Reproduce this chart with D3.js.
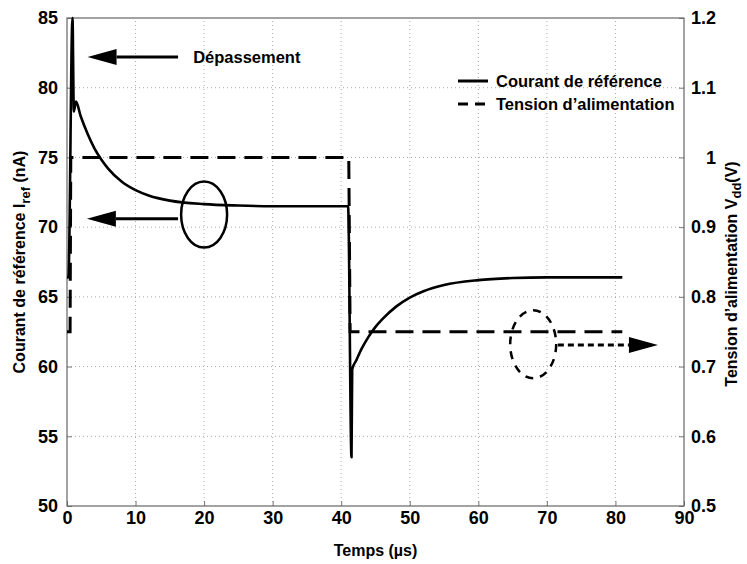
<!DOCTYPE html>
<html>
<head>
<meta charset="utf-8">
<script src="https://cdn.jsdelivr.net/npm/d3@7"></script>
<style>
    body { margin: 0; background: #fff; }
    svg { display: block; font-family: "Liberation Sans", Arial, sans-serif; }
</style>
</head>
<body>
<svg id="chart" width="747" height="564"></svg>
<script>
// Temps (µs) / courant (nA)
const currentTime = [0, 0.2, 0.8, 1.0, 1.3, 2, 3, 4, 5, 6, 8, 10, 12, 15, 20, 25, 30, 35, 41.0,
    41.5, 41.6, 42.2, 43, 44, 45, 46, 48, 50, 52, 55, 60, 65, 70, 81];
const currentValue = [66.4, 66.4, 85, 78.3, 79, 77.95, 76.7, 75.65, 74.85, 74.2, 73.25, 72.65, 72.25, 71.9, 71.65, 71.55, 71.5, 71.5, 71.5,
    53.5, 59.8, 60.45, 61.3, 62.15, 62.85, 63.4, 64.3, 64.95, 65.4, 65.85, 66.2, 66.35, 66.4, 66.4];

// Temps (µs) / tension (V)
const voltageTime = [0, 0.45, 0.55, 41.1, 41.3, 81];
const voltageValue = [0.75, 0.75, 1.0, 1.0, 0.75, 0.75];

const xTicks = [0, 10, 20, 30, 40, 50, 60, 70, 80, 90];
const leftTicks = [50, 55, 60, 65, 70, 75, 80, 85];
const rightTicks = [0.5, 0.6, 0.7, 0.8, 0.9, 1.0, 1.1, 1.2];
const rightTickLabels = ["0.5", "0.6", "0.7", "0.8", "0.9", "1", "1.1", "1.2"];

const legendLabels = ["Courant de référence", "Tension d’alimentation"];

let viewChart = {
    render: function() {
        const svg = d3.select("#chart");
        svg.selectAll("*").remove();
        const width = 747, height = 564;
        const margin = { left: 67, right: 63, top: 18, bottom: 58 };

        const xScale = d3.scaleLinear()
            .domain([0, 90])
            .range([margin.left, width - margin.right]);
        const yLeft = d3.scaleLinear()
            .domain([50, 85])
            .range([height - margin.bottom, margin.top]);
        const yRight = d3.scaleLinear()
            .domain([0.5, 1.2])
            .range([height - margin.bottom, margin.top]);

        const x0 = margin.left, x1 = width - margin.right,
            y0 = height - margin.bottom, y1 = margin.top;

        // Grid
        const grid = svg.append("g");
        grid.selectAll(".vgrid").data(xTicks.slice(1, -1)).enter().append("line")
            .attr("x1", d => xScale(d)).attr("x2", d => xScale(d))
            .attr("y1", y0).attr("y2", y1)
            .attr("stroke", "#aaa").attr("stroke-dasharray", "1,3");
        grid.selectAll(".hgrid").data(leftTicks.slice(1, -1)).enter().append("line")
            .attr("x1", x0).attr("x2", x1)
            .attr("y1", d => yLeft(d)).attr("y2", d => yLeft(d))
            .attr("stroke", "#aaa").attr("stroke-dasharray", "1,3");

        // Axes
        const tickFont = (g) => g.selectAll("text")
            .attr("font-family", "'Liberation Sans Narrow', 'Liberation Sans', Arial, sans-serif")
            .attr("font-size", 18).attr("font-weight", "bold").attr("fill", "#000");
        const axisStyle = (g) => {
            g.select(".domain").remove();
            g.selectAll(".tick line").attr("stroke", "#777");
        };
        svg.append("g")
            .attr("transform", `translate(0,${y0})`)
            .call(d3.axisBottom(xScale).tickValues(xTicks).tickSize(-5).tickPadding(5))
            .call(axisStyle).call(tickFont);
        svg.append("g")
            .attr("transform", `translate(${x0},0)`)
            .call(d3.axisLeft(yLeft).tickValues(leftTicks).tickSize(-5).tickPadding(9))
            .call(axisStyle).call(tickFont);
        const right = svg.append("g")
            .attr("transform", `translate(${x1},0)`)
            .call(d3.axisRight(yRight).tickValues(rightTicks)
                .tickFormat((d, i) => rightTickLabels[i]).tickSize(-5).tickPadding(9))
            .call(axisStyle).call(tickFont);
        right.selectAll("text").attr("text-anchor", "end").attr("dx", 23);

        // Frame
        svg.append("rect")
            .attr("x", x0).attr("y", y1)
            .attr("width", x1 - x0).attr("height", y0 - y1)
            .attr("fill", "none").attr("stroke", "#666").attr("stroke-width", 1.2);

        // Series
        const currentLine = d3.line()
            .x((d, i) => xScale(currentTime[i]))
            .y(d => yLeft(d))
            .curve(d3.curveMonotoneX);
        svg.append("path")
            .datum(currentValue)
            .attr("d", currentLine)
            .attr("fill", "none").attr("stroke", "#000").attr("stroke-width", 2.6)
            .attr("stroke-linejoin", "round");

        const voltageLine = d3.line()
            .x((d, i) => xScale(voltageTime[i]))
            .y(d => yRight(d));
        svg.append("path")
            .datum(voltageValue)
            .attr("d", voltageLine)
            .attr("fill", "none").attr("stroke", "#000").attr("stroke-width", 3)
            .attr("stroke-dasharray", "18,9");

        // Annotations
        const arrow = (xa, xb, y, dash) => {
            const dir = xb > xa ? 1 : -1;
            const headLen = 29, headHalf = 8;
            svg.append("line")
                .attr("x1", xa).attr("x2", xb - dir * headLen)
                .attr("y1", y).attr("y2", y)
                .attr("stroke", "#000").attr("stroke-width", 3)
                .attr("stroke-dasharray", dash || null);
            svg.append("path")
                .attr("d", `M${xb},${y}L${xb - dir * headLen},${y - headHalf}L${xb - dir * headLen},${y + headHalf}Z`)
                .attr("fill", "#000");
        };
        arrow(xScale(16.2), xScale(3.0), yLeft(82.2));
        svg.append("text")
            .attr("x", xScale(18.4)).attr("y", yLeft(82.2)).attr("dy", "0.35em")
            .attr("font-size", 16.5).attr("font-weight", "bold")
            .text("Dépassement");

        arrow(xScale(16.2), xScale(2.9), yLeft(70.6));
        svg.append("ellipse")
            .attr("cx", xScale(20)).attr("cy", yLeft(70.9))
            .attr("rx", 23).attr("ry", 33)
            .attr("fill", "none").attr("stroke", "#000").attr("stroke-width", 2.5);

        svg.append("ellipse")
            .attr("cx", xScale(68)).attr("cy", yRight(0.732))
            .attr("rx", 23).attr("ry", 34)
            .attr("fill", "none").attr("stroke", "#000").attr("stroke-width", 2.5)
            .attr("stroke-dasharray", "8,7");
        arrow(xScale(71.6), xScale(86.2), yRight(0.731), "6,4");

        // Legend
        const legend = svg.append("g").attr("transform", `translate(458,81)`);
        legendLabels.forEach((label, i) => {
            const row = legend.append("g").attr("transform", `translate(0,${i * 23})`);
            row.append("line")
                .attr("x1", 0).attr("x2", 30).attr("y1", 0).attr("y2", 0)
                .attr("stroke", "#000").attr("stroke-width", 3)
                .attr("stroke-dasharray", i === 0 ? null : "10,7");
            row.append("text")
                .attr("x", 38).attr("dy", "0.35em")
                .attr("font-size", 16.5).attr("font-weight", "bold")
                .text(label);
        });

        // Axis titles
        svg.append("text")
            .attr("x", (x0 + x1) / 2).attr("y", 556)
            .attr("text-anchor", "middle")
            .attr("font-size", 16).attr("font-weight", "bold")
            .text("Temps (µs)");

        const leftTitle = svg.append("text")
            .attr("transform", `translate(25,262) rotate(-90)`)
            .attr("text-anchor", "middle")
            .attr("font-size", 16).attr("font-weight", "bold");
        leftTitle.append("tspan").text("Courant de référence I");
        leftTitle.append("tspan").attr("dy", 5).attr("font-size", 13).text("ref");
        leftTitle.append("tspan").attr("dy", -5).text(" (nA)");

        const rightTitle = svg.append("text")
            .attr("transform", `translate(737,274) rotate(-90)`)
            .attr("text-anchor", "middle")
            .attr("font-size", 16).attr("font-weight", "bold");
        rightTitle.append("tspan").text("Tension d’alimentation V");
        rightTitle.append("tspan").attr("dy", 4).attr("font-size", 13).text("dd");
        rightTitle.append("tspan").attr("dy", -4).text("(V)");
    }
}

viewChart.render();
</script>
</body>
</html>
